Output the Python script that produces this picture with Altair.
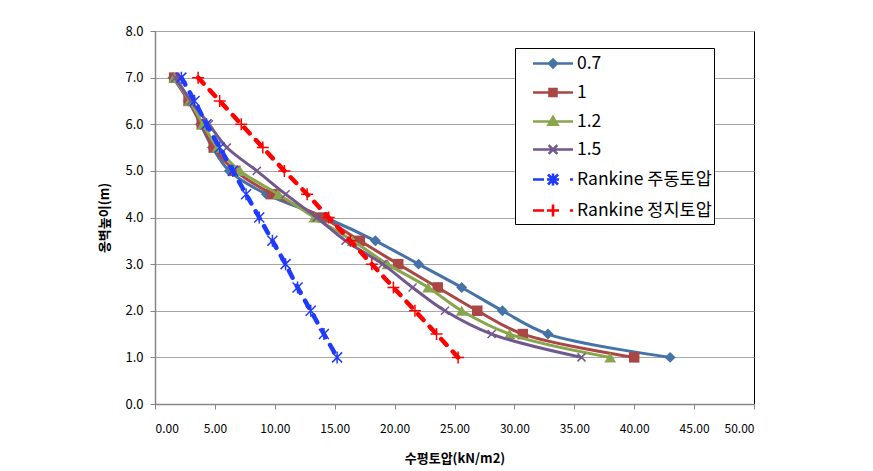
import altair as alt
import pandas as pd

# ---- data ----
heights = [7.0, 6.5, 6.0, 5.5, 5.0, 4.5, 4.0, 3.5, 3.0, 2.5, 2.0, 1.5, 1.0]
series_names = ["0.7", "1", "1.2", "1.5", "Rankine 주동토압", "Rankine 정지토압"]
p_07 = [1.5, 2.8, 3.8, 4.8, 6.2, 9.3, 14.2, 18.4, 22.0, 25.6, 29.0, 32.8, 43.0]
p_10 = [1.6, 2.8, 3.9, 4.9, 6.7, 9.8, 14.0, 17.1, 20.3, 23.6, 26.9, 30.7, 40.0]
p_12 = [1.6, 2.9, 4.0, 5.2, 7.1, 10.3, 13.3, 16.5, 19.4, 22.8, 25.6, 29.6, 38.0]
p_15 = [1.7, 3.0, 4.5, 6.0, 8.5, 10.9, 13.5, 15.9, 19.0, 21.5, 24.2, 28.1, 35.6]
rankine_active = [2.2, 3.3, 4.3, 5.4, 6.5, 7.6, 8.7, 9.8, 10.9, 11.9, 13.0, 14.1, 15.2]
rankine_rest = [3.6, 5.4, 7.2, 9.0, 10.8, 12.7, 14.5, 16.3, 18.1, 19.9, 21.7, 23.5, 25.3]
x_ticks = [0, 5, 10, 15, 20, 25, 30, 35, 40, 45, 50]
y_ticks = [0, 1, 2, 3, 4, 5, 6, 7, 8]
x_title = "수평토압(kN/m2)"
y_title = "옹벽높이(m)"

series_values = [p_07, p_10, p_12, p_15, rankine_active, rankine_rest]
colors = ["#4572A7", "#AA4643", "#89A54E", "#71588F", "#1F3BFF", "#FF0000"]

XMARK = "M-1,-1L1,1M-1,1L1,-1"
ASTER = "M-1,-1L1,1M-1,1L1,-1M0,-1.2L0,1.2"
PLUS = "M-1,0L1,0M0,-1L0,1"

styles = [
    dict(shape="diamond", filled=True, size=120, msw=1, lsw=3, dash=None, interp="catmull-rom"),
    dict(shape="square", filled=True, size=110, msw=1, lsw=3, dash=None, interp="catmull-rom"),
    dict(shape="triangle-up", filled=True, size=140, msw=1, lsw=3, dash=None, interp="catmull-rom"),
    dict(shape=XMARK, filled=False, size=64, msw=1.5, lsw=3, dash=None, interp="catmull-rom"),
    dict(shape=ASTER, filled=False, size=100, msw=1.5, lsw=4.5, dash=[8, 9], interp="linear"),
    dict(shape=PLUS, filled=False, size=144, msw=1.5, lsw=4.5, dash=[8, 9], interp="linear"),
]

# legend symbols: line + marker drawn to the right of the symbol centre (units of 12px)
legend_paths = [
    "M0.21,0L3.54,0M1.875,-0.32L2.195,0L1.875,0.32L1.555,0Z",
    "M0.21,0L3.54,0M1.585,-0.29L2.165,-0.29L2.165,0.29L1.585,0.29Z",
    "M0.21,0L3.54,0M1.875,-0.36L2.245,0.27L1.505,0.27Z",
    "M0.21,0L3.54,0M1.515,-0.36L2.235,0.36M1.515,0.36L2.235,-0.36",
    "M0.21,0L1.125,0M1.375,0L2.375,0M1.455,-0.42L2.295,0.42M1.455,0.42L2.295,-0.42M1.875,-0.5L1.875,0.5M3.29,0L3.54,0",
    "M0.21,0L1.125,0M1.375,0L2.375,0M1.875,-0.5L1.875,0.5M3.29,0L3.54,0",
]

FONT = "Noto Sans CJK KR"

x_enc = alt.X(
    "p:Q",
    scale=alt.Scale(domain=[0, 50], nice=False),
    axis=alt.Axis(values=x_ticks, format=".2f", grid=False, title=x_title,
                  titlePadding=18, labelPadding=14, labelFontSize=12),
)
y_enc = alt.Y(
    "h:Q",
    scale=alt.Scale(domain=[0, 8], nice=False),
    axis=alt.Axis(values=y_ticks, format=".1f", grid=True, title=y_title,
                  titlePadding=13, labelPadding=7, labelFontSize=13),
)

layers = []
for name, vals, col, st in zip(series_names, series_values, colors, styles):
    df = pd.DataFrame({"h": heights, "p": vals, "idx": list(range(len(heights)))})
    base = alt.Chart(df).encode(x=x_enc, y=y_enc)
    line_kw = dict(color=col, strokeWidth=st["lsw"], interpolate=st["interp"], strokeCap="round")
    if st["dash"] is not None:
        line_kw["strokeDash"] = st["dash"]
    line = base.mark_line(**line_kw).encode(order=alt.Order("idx:Q"))
    pts = base.mark_point(shape=st["shape"], filled=st["filled"], color=col, size=st["size"],
                          opacity=1, strokeWidth=st["msw"])
    layers += [line, pts]

leg = alt.Legend(
    title=None, orient="none", legendX=360, legendY=17,
    strokeColor="#000000", fillColor="#ffffff", padding=2,
    labelFont=FONT, labelFontSize=17.5, labelColor="#000000", labelOffset=33,
    symbolSize=576, symbolStrokeWidth=2.6, symbolOpacity=1, rowPadding=6, labelLimit=400,
)
legend_df = pd.DataFrame({"series": series_names})
legend_layer = (
    alt.Chart(legend_df)
    .transform_filter("false")
    .mark_point(filled=True, opacity=1, strokeWidth=2.6)
    .encode(
        fill=alt.Fill("series:N", scale=alt.Scale(domain=series_names, range=colors), legend=leg),
        stroke=alt.Stroke("series:N", scale=alt.Scale(domain=series_names, range=colors), legend=leg),
        shape=alt.Shape("series:N", scale=alt.Scale(domain=series_names, range=legend_paths), legend=leg),
    )
)

chart = (
    alt.layer(*layers, legend_layer)
    .properties(width=599, height=373, autosize=alt.AutoSizeParams(type="none"),
                padding={"left": 147, "top": 23, "right": 110, "bottom": 67})
    .configure_view(stroke="#000000", strokeWidth=1)
    .configure_axis(
        labelFont=FONT, labelColor="#000000",
        titleFont=FONT, titleFontSize=13, titleFontWeight="bold", titleColor="#000000",
        domainColor="#868686", domainWidth=1.5, tickColor="#868686", tickSize=5,
        gridColor="#a6a6a6", gridWidth=1,
    )
)

chart.save("out.html", embed_options={"renderer": "svg", "actions": False})
